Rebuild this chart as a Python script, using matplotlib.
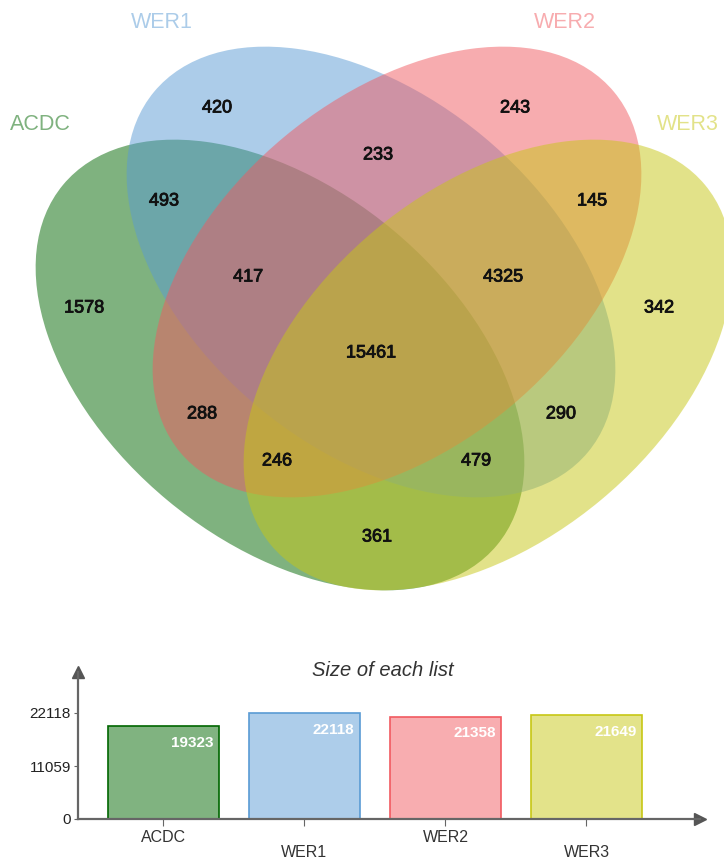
import matplotlib
matplotlib.use('Agg')
import matplotlib.pyplot as plt
import matplotlib.patheffects as pe
from matplotlib.patches import Ellipse
from matplotlib.colors import to_rgba

plt.rcParams['font.family'] = ['Liberation Sans', 'DejaVu Sans']

# list names and colours (jvenn-like)
names = ['ACDC', 'WER1', 'WER2', 'WER3']
colors = ['#006600', '#5a9bd4', '#f15a60', '#c7c715']
list_sizes = [19323, 22118, 21358, 21649]

# region counts of the venn diagram
region_keys = ['WER1', 'WER2', 'WER1&WER2', 'ACDC&WER1', 'WER2&WER3',
               'ACDC&WER1&WER2', 'WER1&WER2&WER3', 'ACDC', 'WER3', 'all',
               'ACDC&WER2', 'WER1&WER3', 'ACDC&WER2&WER3', 'ACDC&WER1&WER3',
               'ACDC&WER3']
region_counts = [420, 243, 233, 493, 145, 417, 4325, 1578, 342, 15461,
                 288, 290, 246, 479, 361]
# where each count is written (pixels)
region_pos = [(217, 108), (515, 108), (378, 155), (164, 201), (592, 201),
              (248, 277), (503, 277), (84, 308), (659, 308), (371, 353),
              (202, 414), (561, 414), (277, 461), (476, 461), (377, 537)]

# ellipse layout (pixels)
ell_center = [(280, 365), (371, 272), (397, 272), (488, 365)]
ell_angle = [39.7, 39.7, -39.7, -39.7]
ell_w, ell_h = 564, 352
name_pos = [(40, 125), (162, 22), (565, 22), (688, 125)]

W, H = 724, 858
fig = plt.figure(figsize=(W / 100, H / 100), dpi=100)

ax0 = fig.add_axes([0, 0, 1, 1])
ax0.set_xlim(0, W)
ax0.set_ylim(H, 0)
ax0.axis('off')

for c, ang, col in zip(ell_center, ell_angle, colors):
    ax0.add_patch(Ellipse(c, ell_w, ell_h, angle=ang, facecolor=col,
                          edgecolor='none', alpha=0.5))

for n, p, col in zip(names, name_pos, colors):
    ax0.text(p[0], p[1], n, color=to_rgba(col, 0.5), fontsize=15.5,
             ha='center', va='center')

for cnt, p in zip(region_counts, region_pos):
    ax0.text(p[0], p[1], str(cnt), fontsize=13, ha='center', va='center',
             color='#111111',
             path_effects=[pe.withStroke(linewidth=0.6, foreground='#111111')])

# bar chart of list sizes
left, right, bottom, top = 78, 700, 819, 672
ax = fig.add_axes([left / W, (H - bottom) / H, (right - left) / W,
                   (bottom - top) / H])
ax.patch.set_alpha(0)
ymax = max(list_sizes)
ax.set_xlim(-0.606, 3.805)
ax.set_ylim(0, ymax * (bottom - top) / 106.0)

xs = range(len(names))
face = []
for col in colors:
    r, g, b, _ = to_rgba(col)
    face.append((0.5 * r + 0.5, 0.5 * g + 0.5, 0.5 * b + 0.5))
ax.bar(xs, list_sizes, width=0.79, color=face, edgecolor=colors,
       linewidth=1.2)
for x, v in zip(xs, list_sizes):
    ax.annotate(str(v), xy=(x + 0.395, v), xytext=(-4, -12),
                textcoords='offset points', ha='right', va='center',
                color='white', fontsize=11, fontweight='bold')

for s in ['top', 'right']:
    ax.spines[s].set_visible(False)
for s in ['left', 'bottom']:
    ax.spines[s].set_color('#666666')
    ax.spines[s].set_linewidth(1.6)
ax.plot(0, 1, marker='^', color='#555555', markersize=9,
        transform=ax.transAxes, clip_on=False)
ax.plot(1, 0, marker='>', color='#555555', markersize=9,
        transform=ax.transAxes, clip_on=False)

ax.set_yticks([0, ymax / 2, ymax])
ax.set_yticklabels(['0', str(ymax // 2), str(ymax)])
ax.tick_params(axis='y', length=3, color='#666666', labelsize=11,
               labelcolor='#222222', pad=2)
ax.set_xticks(list(xs))
ax.set_xticklabels(names)
ax.tick_params(axis='x', length=5, color='#666666', labelsize=11.5,
               labelcolor='#333333', pad=3)
ticks = ax.xaxis.get_major_ticks()
for i in (1, 3):
    ticks[i].set_pad(14)

fig.text(383 / W, 1 - 671 / H, 'Size of each list', fontsize=14.5,
         style='italic', ha='center', va='center', color='#333333')

fig.savefig('out.png', dpi=100)
